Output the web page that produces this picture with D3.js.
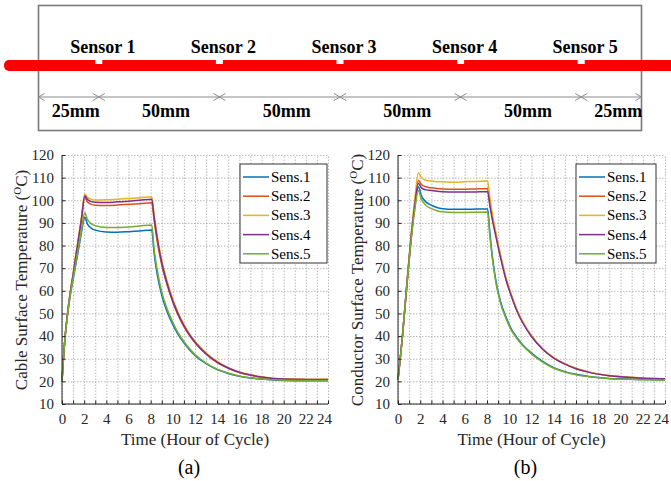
<!DOCTYPE html>
<html>
<head>
<meta charset="utf-8">
<script src="https://cdn.jsdelivr.net/npm/d3@7"></script>
<style>
  body { margin: 0; background: #fff; }
  svg { display: block; font-family: "Liberation Serif", "Times New Roman", serif; }
  .grid line { stroke: #a8a8a8; stroke-width: 0.8; stroke-dasharray: 1.5,1.5; }
  .grid path { display: none; }
  .axis path, .axis line { stroke: #262626; stroke-width: 1; }
  .axis text { fill: #262626; font-size: 15px; font-family: "Liberation Serif", "Times New Roman", serif; }
</style>
</head>
<body>
<svg id="fig" width="671" height="481"></svg>
<script>
// ---- data ----
var sensorNames = ["Sensor 1", "Sensor 2", "Sensor 3", "Sensor 4", "Sensor 5"];
var sensorPosMm = [25, 75, 125, 175, 225];   // positions along the 250mm sample
var spanEdgesMm = [0, 25, 75, 125, 175, 225, 250];
var spanLabels = ["25mm", "50mm", "50mm", "50mm", "50mm", "25mm"];

var legendNames = ["Sens.1", "Sens.2", "Sens.3", "Sens.4", "Sens.5"];
var colors = ["#0072BD", "#D95319", "#EDB120", "#7E2F8E", "#77AC30"];

var xTicks = d3.range(0, 25, 1);
var yTicks = d3.range(10, 121, 10);

// (a) cable surface
var timesA = [0, 0.1, 0.25, 0.5, 0.75, 1, 1.25, 1.5, 1.75, 2.05,
  2.3, 2.6, 3, 4, 5, 6, 7, 8.1,
  8.3, 8.6, 9, 9.5, 10, 10.5, 11, 11.5, 12, 13, 14, 15, 16, 17, 18, 19, 20, 22, 24];
var cableS1 = [20, 28, 38, 49.5, 58, 65, 71.8, 78.5, 85.5, 92.5,
  89.5, 87.8, 86.8, 86, 85.9, 86.1, 86.4, 86.9,
  77, 67, 58, 50.5, 45, 40.5, 37, 34, 31.5, 27.8, 25.2, 23.5, 22.3, 21.5, 21, 20.6, 20.4, 20.3, 20.3];
var cableS2 = [20, 28, 38, 50, 59.3, 66.8, 75, 83, 91, 101.3,
  99.2, 98.3, 97.8, 97.7, 97.9, 98.2, 98.5, 98.9,
  91.5, 81.5, 71.5, 62.3, 55, 49, 44.2, 40.3, 37, 32, 28.3, 25.8, 23.9, 22.7, 21.8, 21.2, 20.9, 20.7, 20.7];
var cableS3 = [20, 28, 38, 50, 59.5, 67.5, 76, 84, 92.5, 102.8,
  101.3, 100.5, 100.1, 100.2, 100.5, 100.8, 101.1, 101.6,
  94, 84, 73.5, 64, 56.3, 50.2, 45.2, 41.1, 37.7, 32.6, 28.8, 26.1, 24.2, 22.9, 22, 21.4, 21.1, 20.9, 20.9];
var cableS4 = [20, 28, 38, 50, 59.5, 67.2, 75.5, 83.5, 91.5, 102,
  100.3, 99.5, 99.1, 99, 99.3, 99.6, 100, 100.5,
  93, 83, 72.5, 63, 55.5, 49.5, 44.6, 40.6, 37.3, 32.2, 28.5, 25.9, 24, 22.8, 21.9, 21.3, 21, 20.8, 20.8];
var cableS5 = [20, 28, 38, 49.5, 58.5, 65.5, 72.5, 79.5, 86.5, 94.5,
  91.5, 89.8, 88.8, 88, 88, 88.2, 88.6, 89.1,
  79, 69, 59.5, 51.8, 46, 41.3, 37.6, 34.5, 31.9, 28.1, 25.4, 23.7, 22.4, 21.6, 21.1, 20.7, 20.5, 20.4, 20.4];

// (b) conductor surface
var timesB = [0, 0.1, 0.2, 0.4, 0.75, 1.1, 1.5, 1.83,
  2.1, 2.5, 3, 3.5, 4, 5, 6, 7, 8.06,
  8.25, 8.5, 8.8, 9.2, 9.7, 10.2, 10.7, 11.2, 12, 13, 14, 15, 16, 17, 18, 19, 20, 22, 24];
var condS1 = [20.8, 25.5, 30, 40, 60, 79, 96.5, 106,
  102, 99.3, 97.8, 96.8, 96.3, 96, 96, 96.1, 96.2,
  86, 74.5, 64.5, 55.5, 48.5, 43, 39.3, 36.2, 32.5, 28.8, 26, 24.3, 23.1, 22.3, 21.7, 21.3, 21.1, 20.8, 20.6];
var condS2 = [20.8, 25.5, 30, 40, 60.3, 80, 98.5, 108.8,
  107, 106, 105.5, 105.2, 105, 104.9, 104.9, 105, 105.1,
  99, 92, 84.8, 75.6, 65.4, 57.8, 51.2, 46.2, 40, 34.3, 30.4, 27.7, 25.7, 24.3, 23.2, 22.5, 22, 21.4, 21.1];
var condS3 = [20.8, 25.5, 30, 40, 60.5, 80.5, 100, 112.2,
  110, 108.8, 108.5, 108.2, 108.2, 108, 108.2, 108.3, 108.5,
  101.5, 93.5, 85.8, 76.4, 66, 58.2, 51.6, 46.5, 40.2, 34.5, 30.5, 27.8, 25.8, 24.4, 23.3, 22.6, 22.1, 21.5, 21.2];
var condS4 = [20.8, 25.5, 30, 40, 60, 79.5, 97.5, 107.5,
  105.5, 104.6, 104.3, 104, 103.8, 103.6, 103.6, 103.7, 103.8,
  98, 91, 84, 75, 65, 57.5, 51, 46, 39.8, 34.2, 30.3, 27.6, 25.6, 24.2, 23.2, 22.5, 22, 21.4, 21.1];
var condS5 = [20.8, 25.5, 30, 40, 59.8, 78.5, 95.5, 104.3,
  100.5, 97.8, 96.3, 95.4, 94.9, 94.6, 94.6, 94.7, 94.8,
  84.5, 73.5, 63.5, 54.8, 47.8, 42.4, 38.8, 35.8, 32.1, 28.5, 25.8, 24.1, 22.9, 22.1, 21.6, 21.2, 21, 20.7, 20.5];

var svg = d3.select("#fig");

// ---- sample sketch on top ----
var mm = d3.scaleLinear().domain([0, 250]).range([38.5, 641.5]);

svg.append("rect")
  .attr("x", mm(0)).attr("y", 5.5)
  .attr("width", mm(250) - mm(0)).attr("height", 125)
  .attr("fill", "none").attr("stroke", "#7a7a7a").attr("stroke-width", 1.6);

svg.append("rect")
  .attr("x", 4).attr("y", 60).attr("width", 680).attr("height", 11)
  .attr("rx", 5).attr("fill", "#ff0000");

svg.append("g").selectAll("rect")
  .data(sensorPosMm)
  .enter().append("rect")
  .attr("x", d => mm(d) - 3.5).attr("y", 60)
  .attr("width", 7).attr("height", 4)
  .attr("fill", "#fff");

svg.append("g").selectAll("text")
  .data(sensorNames)
  .enter().append("text")
  .attr("x", (d, i) => mm(sensorPosMm[i]) + 4)
  .attr("y", 53)
  .attr("text-anchor", "middle")
  .attr("font-size", 18).attr("font-weight", "bold")
  .text(d => d);

// dimension line with open arrow heads
var dimY = 97;
svg.append("line")
  .attr("x1", mm(0)).attr("x2", mm(250))
  .attr("y1", dimY).attr("y2", dimY)
  .attr("stroke", "#8a8a8a").attr("stroke-width", 1);

var heads = svg.append("g").attr("fill", "none").attr("stroke", "#8a8a8a").attr("stroke-width", 1);
spanEdgesMm.forEach(function (e, i) {
  var x = mm(e);
  if (i > 0) heads.append("path").attr("d", "M" + (x - 6) + "," + (dimY - 3.5) + "L" + x + "," + dimY + "L" + (x - 6) + "," + (dimY + 3.5));
  if (i < spanEdgesMm.length - 1) heads.append("path").attr("d", "M" + (x + 6) + "," + (dimY - 3.5) + "L" + x + "," + dimY + "L" + (x + 6) + "," + (dimY + 3.5));
});

svg.append("g").selectAll("text")
  .data(spanLabels)
  .enter().append("text")
  .attr("x", (d, i) => (mm(spanEdgesMm[i]) + mm(spanEdgesMm[i + 1])) / 2 + 7)
  .attr("y", 117)
  .attr("text-anchor", "middle")
  .attr("font-size", 18).attr("font-weight", "bold")
  .text(d => d);

// ---- the two temperature charts ----
function drawChart(opt) {
  var x = d3.scaleLinear().domain([0, 24]).range([opt.left, opt.right]);
  var y = d3.scaleLinear().domain([10, 120]).range([404, 155]);
  var g = svg.append("g");

  g.append("g").attr("class", "grid")
    .attr("transform", "translate(0,404)")
    .call(d3.axisBottom(x).tickValues(xTicks).tickSize(-(404 - 155)).tickFormat(""));
  g.append("g").attr("class", "grid")
    .attr("transform", "translate(" + opt.left + ",0)")
    .call(d3.axisLeft(y).tickValues(yTicks).tickSize(-(opt.right - opt.left)).tickFormat(""));

  var line = d3.line()
    .x((d, i) => x(opt.times[i]))
    .y(d => y(d))
    .curve(d3.curveMonotoneX);

  g.append("g").selectAll("path")
    .data(opt.series)
    .enter().append("path")
    .attr("d", d => line(d))
    .attr("fill", "none")
    .attr("stroke", (d, i) => colors[i])
    .attr("stroke-width", 1.5);

  var xa = g.append("g").attr("class", "axis")
    .attr("transform", "translate(0,404)")
    .call(d3.axisBottom(x).tickValues(xTicks).tickSizeInner(-3.5).tickSizeOuter(0).tickPadding(9)
      .tickFormat(d => d % 2 === 0 ? d : ""));
  // last label pulled in a little so it stays inside the page
  xa.selectAll(".tick text").filter(d => d === 24).attr("dx", -4);
  var ya = g.append("g").attr("class", "axis")
    .attr("transform", "translate(" + opt.left + ",0)")
    .call(d3.axisLeft(y).tickValues(yTicks).tickSizeInner(-3.5).tickSizeOuter(0).tickPadding(8));
  xa.select(".domain").attr("d", "M" + opt.left + ",0H" + opt.right);
  ya.select(".domain").attr("d", "M0,155V404");

  // legend
  var lg = g.append("g");
  lg.append("rect")
    .attr("x", opt.legX).attr("y", 164)
    .attr("width", opt.legW).attr("height", 99)
    .attr("fill", "#fff").attr("stroke", "#333").attr("stroke-width", 1);
  var rows = lg.selectAll("g.row")
    .data(legendNames)
    .enter().append("g")
    .attr("transform", (d, i) => "translate(" + opt.legX + "," + (177 + i * 19.2) + ")");
  rows.append("line")
    .attr("x1", 3).attr("x2", 29).attr("y1", 0).attr("y2", 0)
    .attr("stroke", (d, i) => colors[i]).attr("stroke-width", 1.5);
  rows.append("text")
    .attr("x", 31).attr("y", 5)
    .attr("font-size", 15).attr("fill", "#000")
    .text(d => d);

  // axis titles
  var yt = g.append("text")
    .attr("transform", "translate(" + opt.yTitleX + ",280) rotate(-90)")
    .attr("text-anchor", "middle")
    .attr("font-size", 17).attr("fill", "#262626");
  yt.append("tspan").text(opt.yTitle + " (");
  yt.append("tspan").attr("font-size", 11).attr("dy", -6).text("O");
  yt.append("tspan").attr("dy", 6).text("C)");

  g.append("text")
    .attr("x", (opt.left + opt.right) / 2).attr("y", 445)
    .attr("text-anchor", "middle")
    .attr("font-size", 17).attr("fill", "#262626")
    .text("Time (Hour of Cycle)");

  g.append("text")
    .attr("x", (opt.left + opt.right) / 2 - 6).attr("y", 474)
    .attr("text-anchor", "middle")
    .attr("font-size", 20).attr("fill", "#000")
    .text(opt.tag);
}

drawChart({
  left: 62, right: 328, times: timesA,
  series: [cableS1, cableS2, cableS3, cableS4, cableS5],
  legX: 240, legW: 87, yTitleX: 27,
  yTitle: "Cable Surface Temperature", tag: "(a)"
});

drawChart({
  left: 398, right: 665, times: timesB,
  series: [condS1, condS2, condS3, condS4, condS5],
  legX: 576, legW: 80, yTitleX: 363,
  yTitle: "Conductor Surface Temperature", tag: "(b)"
});
</script>
</body>
</html>
